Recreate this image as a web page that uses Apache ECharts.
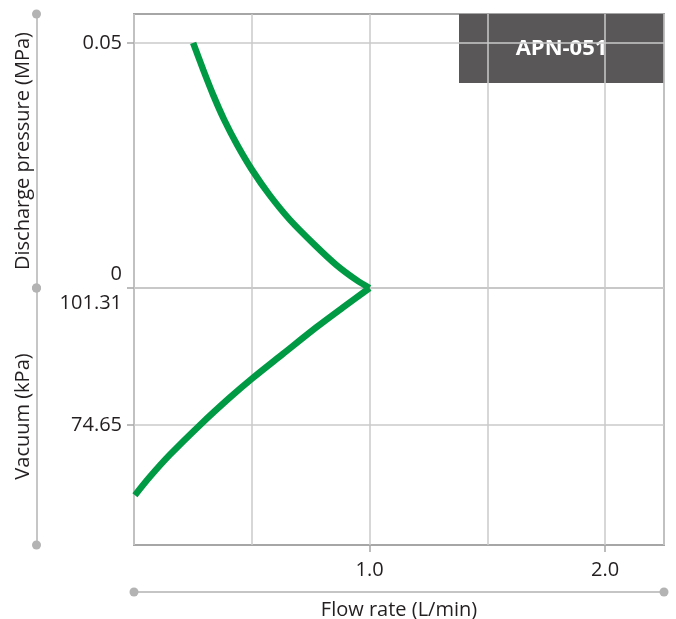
<!DOCTYPE html>
<html>
<head>
<meta charset="utf-8">
<script src="https://cdn.jsdelivr.net/npm/echarts@6/dist/echarts.min.js"></script>
<style>
  html, body { margin: 0; padding: 0; background: #fff; }
  #chart { width: 676px; height: 619px; }
</style>
</head>
<body>
<div id="chart"></div>
<script>
// ---- Data ----
const modelName = 'APN-051';
const xAxisTitle = 'Flow rate (L/min)';
const upperTitle = 'Discharge pressure (MPa)';
const lowerTitle = 'Vacuum (kPa)';

// Discharge side: flow rate (L/min) vs discharge pressure (MPa)
const flowDischarge = [0.251, 0.294, 0.336, 0.383, 0.438, 0.501, 0.575, 0.662, 0.767, 0.859, 0.945, 1.0];
const pressureMPa   = [0.0500, 0.0445, 0.0394, 0.0343, 0.0292, 0.0241, 0.0190, 0.0139, 0.0088, 0.0047, 0.0016, 0];

// Vacuum side: flow rate (L/min) vs vacuum (kPa)
const flowVacuum = [0.004, 0.068, 0.153, 0.280, 0.407, 0.504, 0.631, 0.775, 0.886, 1.0];
const vacuumKPa  = [61.0, 64.6, 68.9, 74.65, 80.0, 83.8, 88.45, 93.7, 97.5, 101.31];

// Tick values
const xTickLabels = [1, 2];
const pressureTicks = [0, 0.05];
const vacuumTicks = [74.65, 101.31];

// ---- Layout / style ----
const FONT = 'Open Sans';
const FS = 20;
const TEXT = '#231f20';
const GRID_LEFT = 134, GRID_RIGHT = 12;
const UP_TOP = 14, UP_H = 274, LO_H = 257;
const FRAME = '#a6a6a6', SPLIT = '#cacaca', DECO = '#b3b3b3';
const GREEN = '#009a44';

const chart = echarts.init(document.getElementById('chart'), null, { renderer: 'canvas' });

const option = {
  animation: false,
  backgroundColor: '#fff',
  grid: [
    { left: GRID_LEFT, right: GRID_RIGHT, top: UP_TOP, height: UP_H, show: true, borderColor: FRAME, borderWidth: 2,
      backgroundColor: 'transparent', containLabel: false, outerBoundsMode: 'none' },
    { left: GRID_LEFT, right: GRID_RIGHT, top: UP_TOP + UP_H, height: LO_H, show: true, borderColor: FRAME, borderWidth: 2,
      backgroundColor: 'transparent', containLabel: false, outerBoundsMode: 'none' }
  ],
  xAxis: [
    { // upper grid vertical lines
      type: 'value', gridIndex: 0, min: 0, max: 2.25, interval: 0.5, position: 'bottom',
      axisLine: { show: false, onZero: false }, axisTick: { show: false }, axisLabel: { show: false },
      splitLine: { show: true, lineStyle: { color: SPLIT, width: 1.5 } }
    },
    { // lower grid vertical lines
      type: 'value', gridIndex: 1, min: 0, max: 2.25, interval: 0.5, position: 'top',
      axisLine: { show: false, onZero: false }, axisTick: { show: false }, axisLabel: { show: false },
      splitLine: { show: true, lineStyle: { color: SPLIT, width: 1.5 } }
    },
    { // ticks and labels
      type: 'value', gridIndex: 1, min: 0, max: 2.25, interval: 0.5, position: 'bottom',
      axisLine: { show: false, onZero: false },
      axisTick: { show: true, customValues: xTickLabels, length: 7, lineStyle: { color: FRAME, width: 1.5 } },
      axisLabel: { show: true, customValues: xTickLabels, margin: 15, color: TEXT, fontFamily: FONT, fontSize: FS,
        formatter: v => v.toFixed(1) },
      splitLine: { show: false }
    },
    { // decorative flow-rate axis line with title
      type: 'value', gridIndex: 1, min: 0, max: 2.25, position: 'bottom', offset: 47,
      axisLine: { show: true, onZero: false, symbol: ['circle', 'circle'], symbolSize: [9, 9],
        lineStyle: { color: DECO, width: 1.5 } },
      axisTick: { show: false }, axisLabel: { show: false }, splitLine: { show: false },
      name: xAxisTitle, nameLocation: 'middle', nameGap: 8,
      nameTextStyle: { color: TEXT, fontFamily: FONT, fontSize: FS, verticalAlign: 'top' }
    }
  ],
  yAxis: [
    { // discharge pressure
      type: 'value', gridIndex: 0, min: 0, max: 0.0559, interval: 0.05, position: 'left',
      axisLine: { show: false, onZero: false },
      axisTick: { show: true, customValues: pressureTicks, length: 7, lineStyle: { color: FRAME, width: 1.5 } },
      axisLabel: { show: true, customValues: pressureTicks, margin: 12, color: TEXT, fontFamily: FONT, fontSize: FS,
        formatter: v => v === 0 ? '{up|0}' : String(v),
        rich: { up: { fontFamily: FONT, fontSize: FS, color: TEXT, padding: [0, 0, 27, 0] } } },
      splitLine: { show: true, lineStyle: { color: SPLIT, width: 1.5 } }
    },
    { // vacuum
      type: 'value', gridIndex: 1, min: 51.31, max: 101.31, position: 'left',
      axisLine: { show: false, onZero: false },
      axisTick: { show: true, customValues: vacuumTicks, length: 7, lineStyle: { color: FRAME, width: 1.5 } },
      axisLabel: { show: true, customValues: vacuumTicks, margin: 12, color: TEXT, fontFamily: FONT, fontSize: FS,
        formatter: v => v === 101.31 ? '{dn|101.31}' : String(v),
        rich: { dn: { fontFamily: FONT, fontSize: FS, color: TEXT, padding: [30, 0, 0, 0] } } },
      splitLine: { show: true, lineStyle: { color: SPLIT, width: 1.5 } }
    },
    { // decorative upper left line
      type: 'value', gridIndex: 0, min: 0, max: 0.0559, position: 'left', offset: GRID_LEFT - 36.5,
      axisLine: { show: true, onZero: false, symbol: ['circle', 'circle'], symbolSize: [9, 9],
        lineStyle: { color: DECO, width: 1.5 } },
      axisTick: { show: false }, axisLabel: { show: false }, splitLine: { show: false },
      name: upperTitle, nameLocation: 'middle', nameGap: 3, nameRotate: 90,
      nameTextStyle: { color: TEXT, fontFamily: FONT, fontSize: FS, verticalAlign: 'bottom' }
    },
    { // decorative lower left line
      type: 'value', gridIndex: 1, min: 51.31, max: 101.31, position: 'left', offset: GRID_LEFT - 36.5,
      axisLine: { show: true, onZero: false, symbol: ['circle', 'circle'], symbolSize: [9, 9],
        lineStyle: { color: DECO, width: 1.5 } },
      axisTick: { show: false }, axisLabel: { show: false }, splitLine: { show: false },
      name: lowerTitle, nameLocation: 'middle', nameGap: 3, nameRotate: 90,
      nameTextStyle: { color: TEXT, fontFamily: FONT, fontSize: FS, verticalAlign: 'bottom' }
    }
  ],
  graphic: [
    {
      type: 'group', right: GRID_RIGHT, top: UP_TOP, z: 100,
      children: [
        { type: 'rect', shape: { x: 0, y: 0, width: 205, height: 69 }, style: { fill: '#595757' } },
        { type: 'text', x: 102.5, y: 35, style: { text: modelName, fill: '#fff', font: 'bold 22px "Open Sans"',
          align: 'center', verticalAlign: 'middle' } }
      ]
    }
  ],
  series: [
    {
      type: 'line', xAxisIndex: 0, yAxisIndex: 0, smooth: 0.3, symbol: 'none',
      lineStyle: { color: GREEN, width: 6.5 },
      data: flowDischarge.map((x, i) => [x, pressureMPa[i]])
    },
    {
      type: 'line', xAxisIndex: 1, yAxisIndex: 1, smooth: 0.3, symbol: 'none',
      lineStyle: { color: GREEN, width: 6.5 },
      data: flowVacuum.map((x, i) => [x, vacuumKPa[i]])
    }
  ]
};

chart.setOption(option);
</script>
</body>
</html>
